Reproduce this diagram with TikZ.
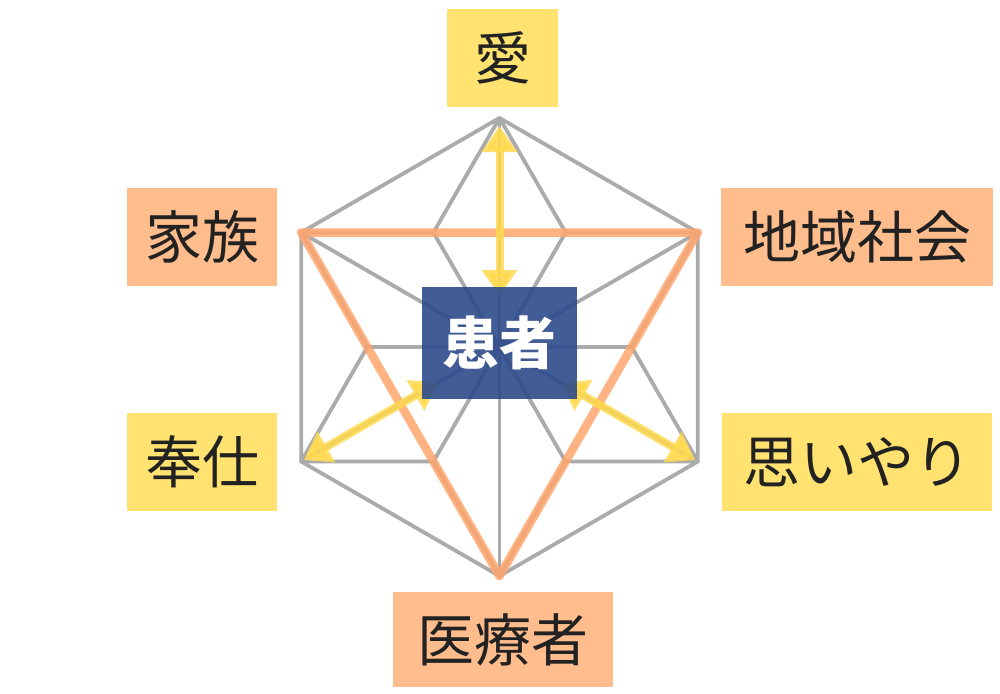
\documentclass[tikz,border=0pt]{standalone}
\usepackage{fontspec}
\newfontfamily\jp{Noto Sans CJK JP}
\usetikzlibrary{arrows.meta}
\definecolor{grayline}{HTML}{ABABAB}
\definecolor{orangeline}{HTML}{FFA46C}
\definecolor{yellowline}{HTML}{FFD94C}
\definecolor{yellowbox}{HTML}{FFE270}
\definecolor{orangebox}{HTML}{FFBD8D}
\definecolor{bluebox}{HTML}{2E4A8B}
\definecolor{textdark}{HTML}{222222}
\begin{document}
\begin{tikzpicture}[x=1pt,y=-1pt,
  grayseg/.style={draw=grayline, line width=3.8pt, line cap=round, line join=round},
  tri/.style={draw=orangeline, line width=8.5pt, line cap=round, line join=round, draw opacity=0.85},
  yarrow/.style={draw=yellowline, fill=yellowline, line width=8pt, opacity=0.85,
    {Triangle[width=34pt,length=26pt]}-{Triangle[width=34pt,length=26pt]}},
  label/.style={inner sep=0pt, text=textdark, font=\jp\fontsize{57pt}{60pt}\selectfont},
  ybox/.style={label, fill=yellowbox},
  obox/.style={label, fill=orangebox}
]
\useasboundingbox (0,0) rectangle (1000,693);
% geometry
\coordinate (C) at (499.5,347);
\coordinate (O90) at (499.5,118);
\coordinate (O30) at (697.8,232.5);
\coordinate (O330) at (697.8,461.5);
\coordinate (O270) at (499.5,576);
\coordinate (O210) at (301.2,461.5);
\coordinate (O150) at (301.2,232.5);
\coordinate (I0) at (631.7,347);
\coordinate (I60) at (565.6,232.5);
\coordinate (I120) at (433.4,232.5);
\coordinate (I180) at (367.3,347);
\coordinate (I240) at (433.4,461.5);
\coordinate (I300) at (565.6,461.5);
% gray structure
\draw[grayseg] (O90) -- (O30) -- (O330) -- (O270) -- (O210) -- (O150) -- cycle;
\draw[grayseg] (O90) -- (I60) -- (O30) -- (I0) -- (O330) -- (I300) -- (O270)
  -- (I240) -- (O210) -- (I180) -- (O150) -- (I120) -- cycle;
\foreach \p in {O90,O30,O330,O270,O210,O150,I0,I60,I120,I180,I240,I300}
  \draw[grayseg] (C) -- (\p);
% orange triangle
\draw[tri] (O150) -- (O30) -- (O270) -- cycle;
% yellow arrows
\draw[yarrow, shorten <=8pt, shorten >=51pt] (O90) -- (C);
\draw[yarrow, shorten <=3pt, shorten >=71pt] (O210) -- (C);
\draw[yarrow, shorten <=3pt, shorten >=71pt] (O330) -- (C);
% center box
\node[fill=bluebox, fill opacity=0.9, text opacity=1, text=white, minimum width=155pt, minimum height=112pt, inner sep=0pt,
  font=\jp\bfseries\fontsize{57pt}{60pt}\selectfont] (kanja) at (499.5,343) {患者};
% labels
\node[ybox, minimum width=111pt, minimum height=98pt] (ai) at (502.5,58) {愛};
\node[obox, minimum width=150pt, minimum height=98pt] (kazoku) at (202,237) {家族};
\node[obox, minimum width=272pt, minimum height=98pt] (chiiki) at (857,237) {地域社会};
\node[ybox, minimum width=150pt, minimum height=98pt] (houshi) at (202,462) {奉仕};
\node[ybox, minimum width=270pt, minimum height=98pt] (omoiyari) at (857,462) {思いやり};
\node[obox, minimum width=220pt, minimum height=95pt] (iryou) at (503,639.5) {医療者};
\end{tikzpicture}
\end{document}
